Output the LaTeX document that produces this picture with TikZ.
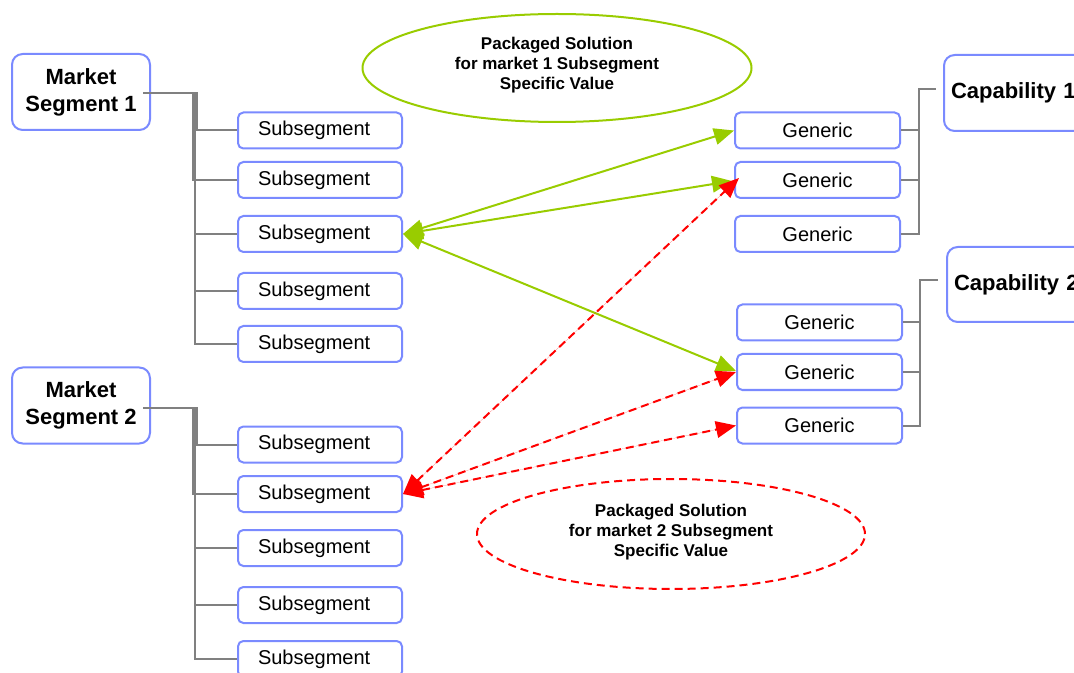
\documentclass[tikz,border=0pt]{standalone}
\usepackage{fontspec}
\setmainfont{Liberation Sans}
\usetikzlibrary{arrows.meta,shapes.geometric,calc}
\definecolor{boxblue}{RGB}{122,138,255}
\definecolor{treegray}{RGB}{128,128,128}
\definecolor{lime}{RGB}{153,204,0}
\definecolor{hotred}{RGB}{255,0,0}
\tikzset{
  box/.style={draw=boxblue, line width=1.5pt, rounded corners=4pt, fill=white, inner sep=0pt},
  subbox/.style={box, minimum width=123pt, minimum height=27pt,
    font=\fontsize{15pt}{18pt}\selectfont, text width=93pt, align=left},
  genbox/.style={box, minimum width=123.75pt, minimum height=27pt,
    font=\fontsize{15pt}{18pt}\selectfont},
  segbox/.style={box, rounded corners=8pt, minimum width=103.5pt, minimum height=57pt,
    font=\fontsize{16.5pt}{20.25pt}\selectfont\bfseries, align=center},
  capbox/.style={box, rounded corners=8pt, anchor=north west, minimum width=150pt,
    inner xsep=5.25pt, text width=139.5pt, align=left,
    font=\fontsize{16.5pt}{20.25pt}\selectfont\bfseries},
  solution/.style={ellipse, inner sep=0pt, line width=1.5pt, align=center,
    font=\fontsize{12.75pt}{15pt}\selectfont\bfseries},
  tree/.style={draw=treegray, line width=1.5pt},
  tips/.style={{Triangle[length=15pt,width=12.5pt]}-{Triangle[length=15pt,width=12.5pt]}},
  greenlink/.style={tips, draw=lime, fill=lime, line width=1.5pt},
  redlink/.style={tips, draw=hotred, fill=hotred, line width=1.5pt,
    dash pattern=on 6pt off 3.75pt},
}
\begin{document}
\begin{tikzpicture}[x=0.75pt, y=-0.75pt]
\clip (0,0) rectangle (1074,673);

% market segments
\node[segbox] (m1) at (81,92) {Market\\Segment 1};
\node[segbox] (m2) at (81,405.5) {Market\\Segment 2};

% subsegments of market 1
\node[subbox] (s1) at (320,130.5) {Subsegment};
\node[subbox] (s2) at (320,180) {Subsegment};
\node[subbox] (s3) at (320,234) {Subsegment};
\node[subbox] (s4) at (320,291) {Subsegment};
\node[subbox] (s5) at (320,344) {Subsegment};

% subsegments of market 2
\node[subbox] (t1) at (320,444.5) {Subsegment};
\node[subbox] (t2) at (320,494) {Subsegment};
\node[subbox] (t3) at (320,548) {Subsegment};
\node[subbox] (t4) at (320,605) {Subsegment};
\node[subbox] (t5) at (320,659) {Subsegment};

% generic capabilities
\node[genbox] (g1) at (817.5,130.5) {Generic};
\node[genbox] (g2) at (817.5,180) {Generic};
\node[genbox] (g3) at (817.5,234) {Generic};
\node[genbox] (g4) at (819.5,322.5) {Generic};
\node[genbox] (g5) at (819.5,372) {Generic};
\node[genbox] (g6) at (819.5,425.5) {Generic};

% capabilities
\node[capbox, minimum height=57pt] (cap1) at (943,54) {Capability 1};
\node[capbox, minimum height=56.25pt] (cap2) at (946,246) {Capability 2};

% packaged solutions (the strut on the last line lifts the text block a little)
\node[solution, draw=lime, minimum width=291.75pt, minimum height=81pt] (pack1) at (557,68)
  {Packaged Solution\\for market 1 Subsegment\\Specific Value\rule[-7pt]{0pt}{7pt}};
\node[solution, draw=hotred, dash pattern=on 6pt off 3.75pt,
  minimum width=291pt, minimum height=82.5pt] (pack2) at (671,534)
  {Packaged Solution\\for market 2 Subsegment\\Specific Value\rule[-5pt]{0pt}{5pt}};

% market trees
\coordinate (m1o) at ($(m1.east)+(-8,1)$);
\coordinate (m2o) at ($(m2.east)+(-8,2.5)$);
\coordinate (ka) at (197,0);
\coordinate (kb) at (193,0);
\coordinate (kc) at (195,0);
\draw[tree] (m1o) -- (m1o -| ka) |- (s1.west);
\draw[tree] (m1o) -- (m1o -| kb) |- (s2.west);
\foreach \s in {s3,s4,s5}
  \draw[tree] (m1o) -- (m1o -| kc) |- (\s.west);
\draw[tree] (m2o) -- (m2o -| ka) |- (t1.west);
\draw[tree] (m2o) -- (m2o -| kb) |- (t2.west);
\foreach \s in {t3,t4,t5}
  \draw[tree] (m2o) -- (m2o -| kc) |- (\s.west);

% capability trees
\coordinate (c1) at (936,89);
\coordinate (c2) at (938,280);
\foreach \g in {g1,g2,g3}
  \draw[tree] (\g.east) -- ++(18,0) |- (c1);
\foreach \g in {g4,g5,g6}
  \draw[tree] (\g.east) -- ++(17,0) |- (c2);

% market 1 solution links
\draw[greenlink] (s3.east) -- (g1.west);
\draw[greenlink] (s3.east) -- ($(g2.west)+(-2,1)$);
\draw[greenlink] (s3.east) -- ($(g5.west)+(0,-1)$);

% market 2 solution links
\draw[redlink] (t2.east) -- ($(g2.west)+(5,-2)$);
\draw[redlink] (t2.east) -- (g5.west);
\draw[redlink] (t2.east) -- (g6.west);
\end{tikzpicture}
\end{document}
